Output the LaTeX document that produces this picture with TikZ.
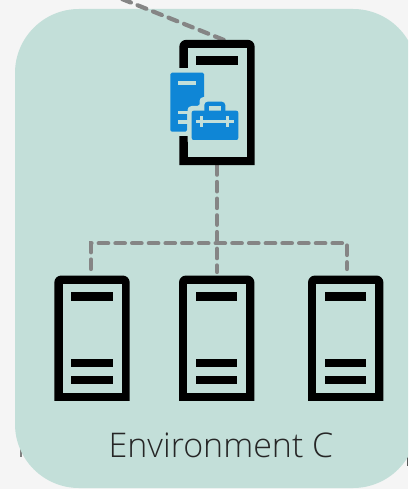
\documentclass[tikz,border=0pt]{standalone}
\usepackage{fontspec}
\setmainfont{Open Sans Light}[BoldFont={Open Sans}]
\definecolor{pagebg}{HTML}{F5F5F5}
\definecolor{panel}{HTML}{C3DFD9}
\definecolor{dashc}{HTML}{858585}
\definecolor{iconblue}{HTML}{0F86D6}
\tikzset{
  srvnode/.style={inner sep=0pt,minimum width=75pt,minimum height=125pt},
  barline/.style={fill=black},
  link/.style={draw=dashc,line width=4.2pt,dash pattern=on 9.5pt off 7.2pt,line cap=round},
  blue/.style={fill=iconblue},
  halo/.style={fill=panel}
}
\newcommand{\serverframe}[1]{%
  \fill[black] (#1.south west) [rounded corners=7pt] -- (#1.north west) -- (#1.north east) -- ([shift={(0,-30)}]#1.south east) [sharp corners] -- (#1.south east) -- cycle;
  \fill[panel] ([shift={(8.2,8.4)}]#1.north west) rectangle ([shift={(-8.2,-8.2)}]#1.south east);
  \fill[barline] ([shift={(16.7,16.7)}]#1.north west) rectangle ([shift={(58.3,25)}]#1.north west);
}
\newcommand{\lowerbars}[1]{%
  \fill[barline] ([shift={(16.7,-41.7)}]#1.south west) rectangle ([shift={(58.3,-33.7)}]#1.south west);
  \fill[barline] ([shift={(16.7,-25)}]#1.south west) rectangle ([shift={(58.3,-16.7)}]#1.south west);
}
\begin{document}
\begin{tikzpicture}[x=1pt,y=-1pt]
\useasboundingbox (0,0) rectangle (408,489);
\clip (0,0) rectangle (408,489);
\fill[pagebg] (0,0) rectangle (408,489);
\fill[black!50] (19.5,447) rectangle (21.5,457);
\fill[black!65] (406.5,456) rectangle (408,466);
\fill[panel,rounded corners=64pt] (15,9) rectangle (417,488);

\node[srvnode] (top) at (217,102.5) {};
\node[srvnode] (s1) at (92,338.2) {};
\node[srvnode] (s2) at (216.7,338.2) {};
\node[srvnode] (s3) at (345.7,338.2) {};
\coordinate (from) at (122,-1);
\coordinate (entry) at (224,40);
\coordinate (hub) at (217,243.3);
\coordinate (d1) at (91,269);
\coordinate (d2) at (217,272);
\coordinate (d3) at (347,269);

\draw[link] (from) -- (entry);
\draw[link] (top.south) -- (d2);
\draw[link] (d1) -- (91,243.3) -- (hub) -- (347,243.3) -- (d3);

\serverframe{top}
\serverframe{s1}\lowerbars{s1}
\serverframe{s2}\lowerbars{s2}
\serverframe{s3}\lowerbars{s3}

% blue tool icon
\fill[halo] (166.5,68) rectangle (208,136);
\fill[blue,rounded corners=1.5pt] (170.3,131.7) -- (170.3,72.7) -- (204,72.7) -- (204,101) -- (196,107) -- (187,110.7) -- (187,131.7) -- cycle;
\fill[halo] (178.3,80.7) rectangle (196,85);
\fill[halo] (178.3,110.7) rectangle (190,114);
\fill[halo] (178.3,120.5) rectangle (190,124);
\fill[halo,rounded corners=4pt] (187.5,145) rectangle (243,106);
\fill[halo,rounded corners=4pt] (199.5,97) rectangle (230,115);
\fill[blue,rounded corners=3.5pt] (204.3,115) -- (204.3,101.7) -- (225.3,101.7) -- (225.3,115) -- cycle;
\fill[halo] (208.5,106.5) rectangle (221,111);
\fill[blue,rounded corners=2pt] (191.7,140) -- (191.7,110.7) -- (238.3,110.7) -- (238.3,140) -- cycle;
\fill[halo] (196,119.7) rectangle (234,122.7);
\fill[halo] (200,116) rectangle (203,127);
\fill[halo] (226,116) rectangle (229,127);

\node[inner sep=0pt,text=black!85,font=\fontsize{34}{40}\selectfont] (label) at (221,445) {Environment C};
\end{tikzpicture}
\end{document}
